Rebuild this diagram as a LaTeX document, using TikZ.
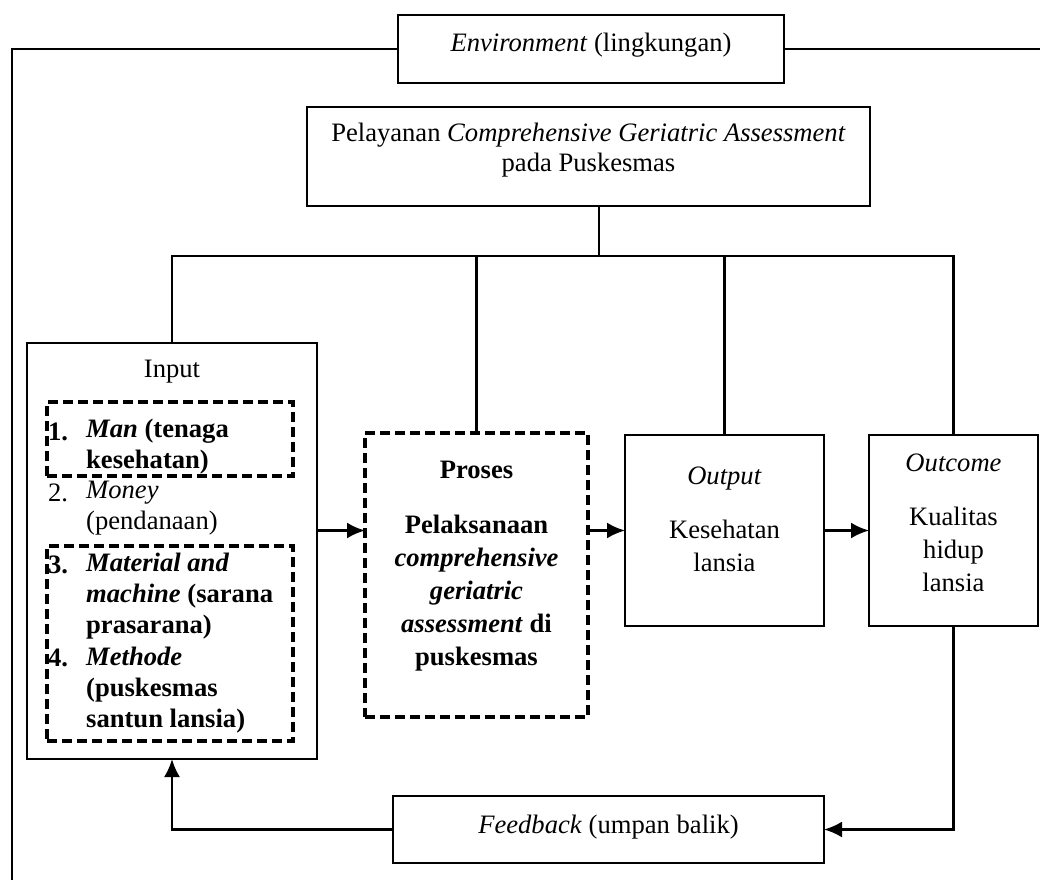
\documentclass[tikz,border=0pt]{standalone}
\usepackage{fontspec}
\setmainfont{Liberation Serif}
\usetikzlibrary{arrows.meta}
\tikzset{
  flowarrow/.style={-{Latex[length=9pt,width=8pt]}},
  solidbox/.style={draw, line width=1.3pt, outer sep=0pt, inner sep=0pt},
  dashbox/.style={draw, line width=1.6pt, dash pattern=on 5pt off 2.5pt, outer sep=0pt, inner sep=0pt},
  txt/.style={inner sep=0pt, align=center},
  itemtxt/.style={inner sep=0pt, align=left, anchor=west, font=\fontsize{13.3}{15.5}\selectfont\bfseries}
}

\begin{document}
\begin{tikzpicture}[x=0.5pt, y=-0.5pt, line width=1.2pt, >=Latex,
    every node/.style={font=\fontsize{13.3}{16.5}\selectfont}]
  \useasboundingbox (0,0) rectangle (1040,880);

  % boxes
  \node[solidbox, minimum width=193pt, minimum height=34pt] (env) at (591,49) {};
  \node[solidbox, minimum width=281.5pt, minimum height=49.5pt] (main) at (588.5,156.5) {};
  \node[solidbox, minimum width=145pt, minimum height=208pt] (input) at (172,551) {};
  \node[dashbox, minimum width=123pt, minimum height=37pt] (man) at (170,439) {};
  \node[dashbox, minimum width=123pt, minimum height=97.5pt] (mat) at (170,643.5) {};
  \node[dashbox, minimum width=111.5pt, minimum height=142pt] (proses) at (476.5,575) {};
  \node[solidbox, minimum width=99.5pt, minimum height=95.5pt] (output) at (724.5,530.5) {};
  \node[solidbox, minimum width=84.5pt, minimum height=95.5pt] (outcome) at (953.5,530.5) {};
  \node[solidbox, minimum width=215.5pt, minimum height=33.5pt] (feedback) at (608.5,829.5) {};

  % texts
  \node[txt] (envtext) at (591,45) {\textit{Environment} (lingkungan)};
  \node[txt, font=\fontsize{13.3}{15}\selectfont] (maintext) at (588.5,150)
    {Pelayanan \textit{Comprehensive Geriatric Assessment}\\pada Puskesmas};
  \node[txt] (inputtext) at (172,372) {Input};
  \node[itemtxt] (n1) at (47,432) {\textbf{1.}};
  \node[itemtxt] (i1) at (85,447) {\textit{Man} (tenaga\\kesehatan)};
  \node[itemtxt, font=\fontsize{13.3}{15.5}\selectfont] (n2) at (47,493) {2.};
  \node[itemtxt, font=\fontsize{13.3}{15.5}\selectfont] (i2) at (85,508) {\textit{Money}\\(pendanaan)};
  \node[itemtxt] (n3) at (47,565) {\textbf{3.}};
  \node[itemtxt] (i3) at (85,596) {\textit{Material and}\\\textit{machine} (sarana\\prasarana)};
  \node[itemtxt] (n4) at (47,658) {\textbf{4.}};
  \node[itemtxt] (i4) at (85,690) {\textit{Methode}\\(puskesmas\\santun lansia)};
  \node[txt, font=\fontsize{13.3}{16.5}\selectfont\bfseries] (prosestext) at (476.5,566)
    {Proses\\[11pt]Pelaksanaan\\\textit{comprehensive}\\\textit{geriatric}\\\textit{assessment} di\\puskesmas};
  \node[txt] (outputtext) at (724.5,519.5) {\textit{Output}\\[10.5pt]Kesehatan\\lansia};
  \node[txt] (outcometext) at (953.5,523) {\textit{Outcome}\\[10.5pt]Kualitas\\hidup\\lansia};
  \node[txt] (fbtext) at (608.5,827) {\textit{Feedback} (umpan balik)};

  % frame lines
  \coordinate (bl) at (12,880);
  \coordinate (er) at (1040,49);
  \coordinate (stem) at (599,256);
  \draw (env.west) -| (bl);
  \draw (env.east) -- (er);

  % branches
  \draw (stem) -- (stem |- main.south);
  \draw (input.north) |- (outcome.north |- stem) -- (outcome.north);
  \draw (proses.north) -- (proses.north |- stem);
  \draw (output.north) -- (output.north |- stem);

  % flow
  \draw[flowarrow] (input.east |- output.west) -- (proses.west |- output.west);
  \draw[flowarrow] (proses.east |- output.west) -- (output.west);
  \draw[flowarrow] (output.east) -- (outcome.west);
  \draw[flowarrow] (outcome.south) |- (feedback.east);
  \draw[flowarrow] (feedback.west) -| (input.south);
\end{tikzpicture}
\end{document}
